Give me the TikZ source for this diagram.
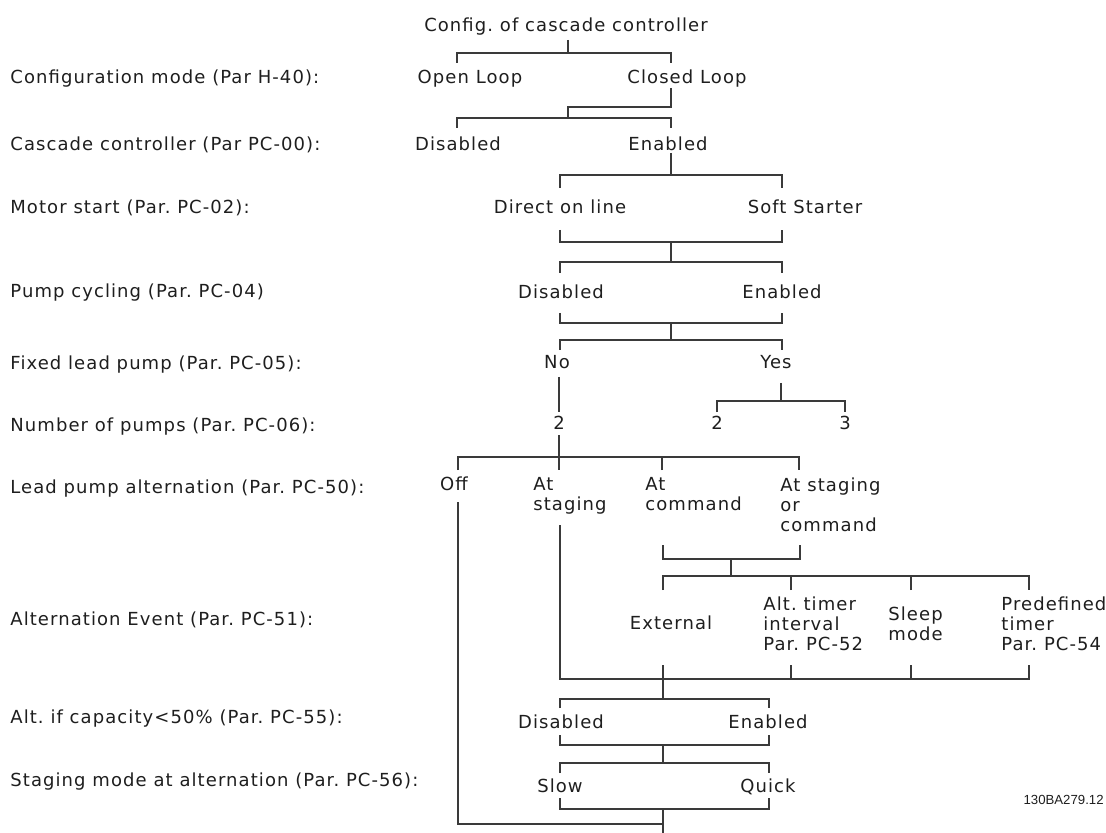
\documentclass[tikz,border=0pt]{standalone}
\usepackage{fontspec}
\setmainfont{DejaVu Sans}[LetterSpace=6]
\newfontfamily\codefont{Liberation Sans}
\usepackage{tikz}
\definecolor{cink}{HTML}{1E1E1E}
\definecolor{cline}{HTML}{3A3A3A}
\frenchspacing

\begin{document}
\begin{tikzpicture}[
  x=0.5pt, y=-0.5pt,
  every node/.style={font=\fontsize{9}{10}\selectfont, text=cink},
  opt/.style={inner sep=0pt, text height=6.6pt, text depth=0pt},
  optl/.style={inner sep=0pt, anchor=north west, align=left},
  parlab/.style={opt, anchor=west},
  ln/.style={draw=cline, line width=0.55pt}
]
\useasboundingbox (0,0) rectangle (1106,833);

\node[opt] (ttl) at (566,25) {Config. of cascade controller};
\node[parlab] (p1) at (10,77) {Configuration mode (Par H-40):};
\node[opt] (open) at (470,77) {Open Loop};
\node[opt] (closed) at (687,77) {Closed Loop};
\node[parlab] (p2) at (10,144) {Cascade controller (Par PC-00):};
\node[opt] (ccdis) at (458,144) {Disabled};
\node[opt] (ccen) at (668,144) {Enabled};
\node[parlab] (p3) at (10,207) {Motor start (Par. PC-02):};
\node[opt] (dol) at (560,207) {Direct on line};
\node[opt] (soft) at (805,207) {Soft Starter};
\node[parlab] (p4) at (10,291) {Pump cycling (Par. PC-04)};
\node[opt] (pcdis) at (561,292) {Disabled};
\node[opt] (pcen) at (782,292) {Enabled};
\node[parlab] (p5) at (10,363) {Fixed lead pump (Par. PC-05):};
\node[opt] (no) at (557,362) {No};
\node[opt] (yes) at (776,362) {Yes};
\node[parlab] (p6) at (10,425) {Number of pumps (Par. PC-06):};
\node[opt] (n2) at (559,423) {2};
\node[opt] (y2) at (717,423) {2};
\node[opt] (y3) at (845,423) {3};
\node[parlab] (p7) at (10,487) {Lead pump alternation (Par. PC-50):};
\node[opt] (off) at (454,484) {Off};
\node[optl] (atstg) at (533,477) {At\\staging};
\node[optl] (atcmd) at (645,477) {At\\command};
\node[optl] (atboth) at (780,477) {At staging\\or\\command};
\node[parlab] (p8) at (10,619) {Alternation Event (Par. PC-51):};
\node[opt] (ext) at (671,623) {External};
\node[optl] (alttim) at (763,596) {Alt. timer\\interval\\Par. PC-52};
\node[optl] (sleep) at (888,606) {Sleep\\mode};
\node[optl] (predef) at (1001,596) {Predefined\\timer\\Par. PC-54};
\node[parlab] (p9) at (10,717) {Alt. if capacity<50\% (Par. PC-55):};
\node[opt] (capdis) at (561,722) {Disabled};
\node[opt] (capen) at (768,722) {Enabled};
\node[parlab] (p10) at (10,780) {Staging mode at alternation (Par. PC-56):};
\node[opt] (slow) at (560,786) {Slow};
\node[opt] (quick) at (768,786) {Quick};
\node[inner sep=0pt, anchor=east, text height=4.7pt, text depth=0pt,
  font=\codefont\fontsize{6.6}{8}\selectfont] (code) at (1104,800) {130BA279.12};

\coordinate (j0t) at (568,40);
\coordinate (j0) at (568,53);
\coordinate (open-n) at (457,63);
\coordinate (closed-n) at (671,63);
\draw[ln] (j0t) -- (j0);
\draw[ln] (open-n) |- (j0) -| (closed-n);

\coordinate (closed-s) at (671,88);
\coordinate (j1a) at (568,107);
\coordinate (j1) at (568,118);
\coordinate (ccdis-n) at (457,128);
\coordinate (ccen-n) at (671,128);
\draw[ln] (closed-s) |- (j1a) -- (j1);
\draw[ln] (ccdis-n) |- (j1) -| (ccen-n);

\coordinate (ccen-s) at (671,153);
\coordinate (j2) at (671,175);
\coordinate (dol-n) at (560,188);
\coordinate (soft-n) at (782,188);
\draw[ln] (ccen-s) -- (j2);
\draw[ln] (dol-n) |- (j2) -| (soft-n);

\coordinate (dol-s) at (560,230);
\coordinate (soft-s) at (782,230);
\coordinate (j3) at (671,242);
\coordinate (j4) at (671,262);
\coordinate (pcdis-n) at (560,273);
\coordinate (pcen-n) at (782,273);
\draw[ln] (dol-s) |- (j3) -| (soft-s);
\draw[ln] (j3) -- (j4);
\draw[ln] (pcdis-n) |- (j4) -| (pcen-n);

\coordinate (pcdis-s) at (560,313);
\coordinate (pcen-s) at (782,313);
\coordinate (j5) at (671,323);
\coordinate (j6) at (671,340);
\coordinate (no-n) at (560,350);
\coordinate (yes-n) at (782,350);
\draw[ln] (pcdis-s) |- (j5) -| (pcen-s);
\draw[ln] (j5) -- (j6);
\draw[ln] (no-n) |- (j6) -| (yes-n);

\coordinate (no-s) at (559,377);
\coordinate (n2-n) at (559,412);
\draw[ln] (no-s) -- (n2-n);
\coordinate (yes-s) at (781,383);
\coordinate (j7) at (781,401);
\coordinate (y2-n) at (717,412);
\coordinate (y3-n) at (845,412);
\draw[ln] (yes-s) -- (j7);
\draw[ln] (y2-n) |- (j7) -| (y3-n);

\coordinate (n2-s) at (559,435);
\coordinate (j8) at (559,457);
\coordinate (off-n) at (458,470);
\coordinate (atstg-n) at (559,470);
\coordinate (atcmd-n) at (662,470);
\coordinate (atboth-n) at (799,470);
\draw[ln] (n2-s) -- (atstg-n);
\draw[ln] (off-n) |- (j8) -| (atboth-n);
\draw[ln] (atcmd-n) -- (atcmd-n |- j8);

\coordinate (atcmd-s) at (663,545);
\coordinate (atboth-s) at (800,545);
\coordinate (j9) at (731,559);
\coordinate (j10) at (731,576);
\coordinate (ext-n) at (663,590);
\coordinate (alttim-n) at (791,590);
\coordinate (sleep-n) at (911,590);
\coordinate (predef-n) at (1029,590);
\draw[ln] (atcmd-s) |- (j9) -| (atboth-s);
\draw[ln] (j9) -- (j10);
\draw[ln] (ext-n) |- (j10) -| (predef-n);
\draw[ln] (alttim-n) -- (alttim-n |- j10);
\draw[ln] (sleep-n) -- (sleep-n |- j10);

\coordinate (atstg-s) at (560,525);
\coordinate (j11) at (663,679);
\coordinate (ext-s) at (663,665);
\coordinate (alttim-s) at (791,665);
\coordinate (sleep-s) at (911,665);
\coordinate (predef-s) at (1029,665);
\coordinate (j12) at (663,699);
\draw[ln] (atstg-s) |- (j11) -| (predef-s);
\draw[ln] (ext-s) -- (j12);
\draw[ln] (alttim-s) -- (alttim-s |- j11);
\draw[ln] (sleep-s) -- (sleep-s |- j11);

\coordinate (capdis-n) at (560,708);
\coordinate (capen-n) at (769,708);
\draw[ln] (capdis-n) |- (j12) -| (capen-n);
\coordinate (capdis-s) at (560,735);
\coordinate (capen-s) at (769,735);
\coordinate (j13) at (663,745);
\coordinate (j14) at (663,763);
\coordinate (slow-n) at (560,773);
\coordinate (quick-n) at (769,773);
\draw[ln] (capdis-s) |- (j13) -| (capen-s);
\draw[ln] (j13) -- (j14);
\draw[ln] (slow-n) |- (j14) -| (quick-n);

\coordinate (slow-s) at (560,798);
\coordinate (quick-s) at (769,798);
\coordinate (j15) at (663,809);
\coordinate (j16) at (663,824);
\coordinate (exit) at (663,833);
\coordinate (off-s) at (458,502);
\draw[ln] (slow-s) |- (j15) -| (quick-s);
\draw[ln] (j15) -- (exit);
\draw[ln] (off-s) |- (j16);
\end{tikzpicture}
\end{document}
